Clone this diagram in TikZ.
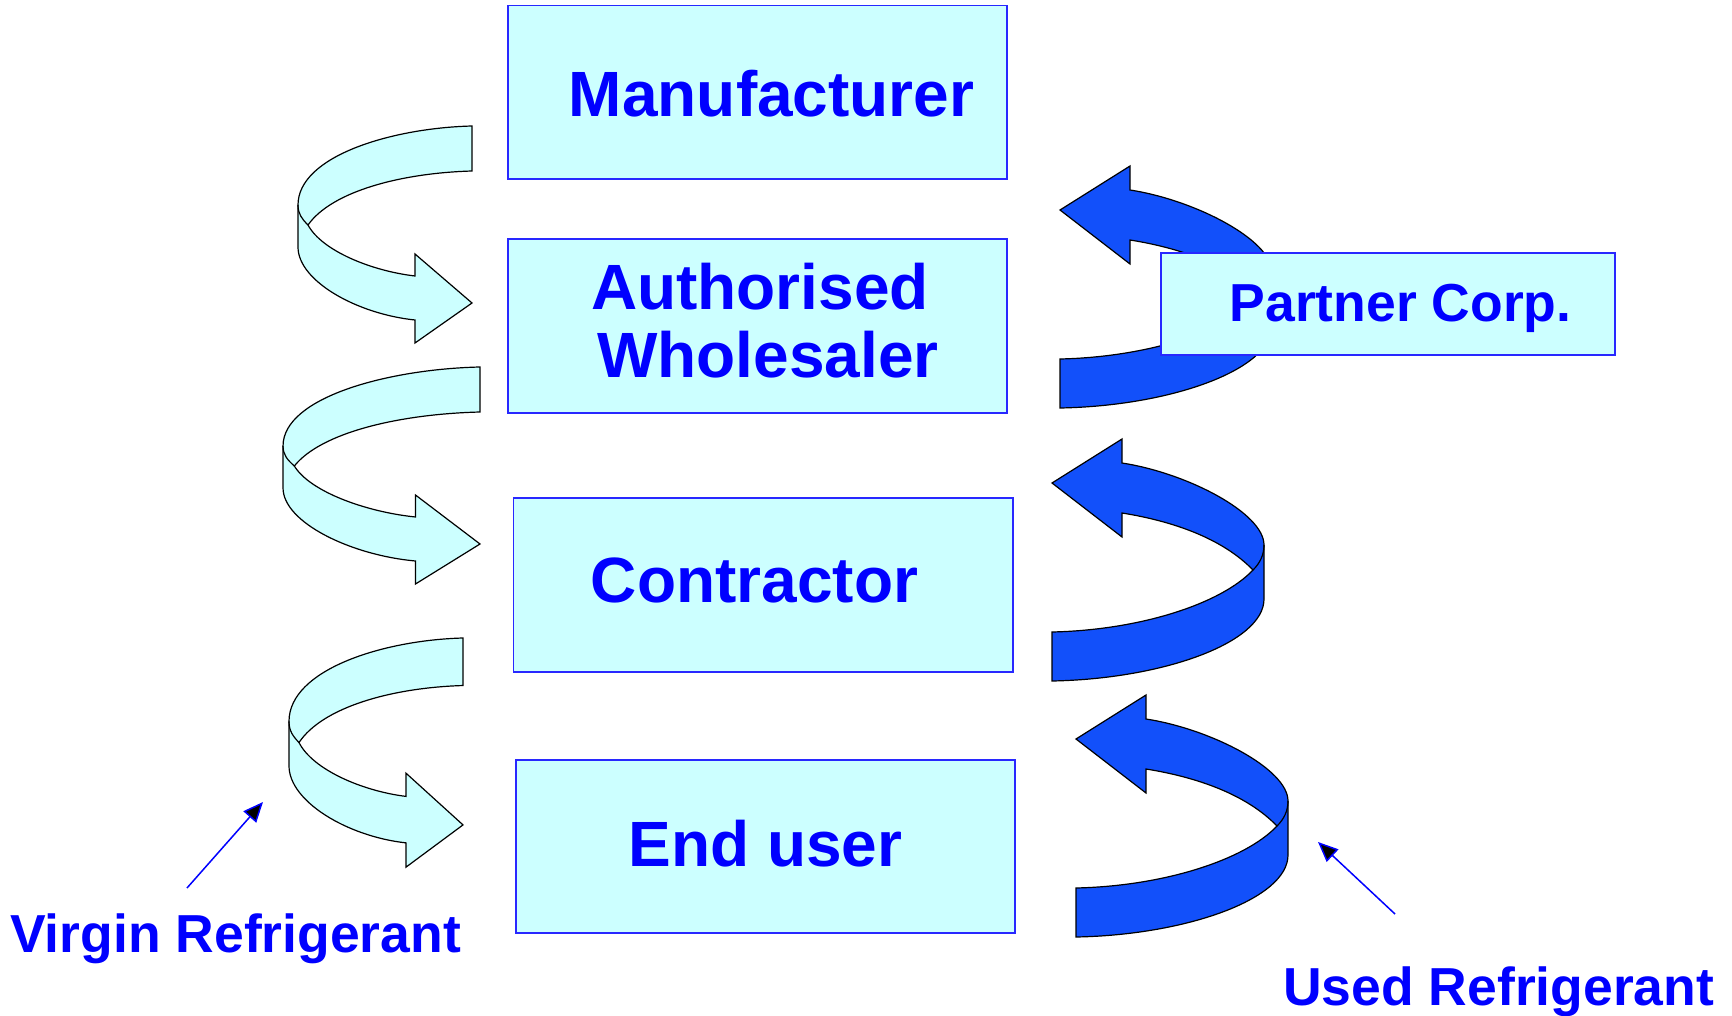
\documentclass[tikz,border=0pt]{standalone}
\usepackage{fontspec}
\setmainfont{Liberation Sans}
\usetikzlibrary{arrows.meta}
\definecolor{boxfill}{RGB}{204,255,255}
\definecolor{boxline}{RGB}{40,40,255}
\definecolor{txtblue}{RGB}{0,0,255}
\definecolor{darkfill}{RGB}{18,80,250}
\tikzset{
  box/.style={draw=boxline, line width=1.4pt, fill=boxfill, inner sep=0pt, outer sep=0pt},
  bigtext/.style={inner sep=0pt, anchor=base, text=txtblue, font=\fontsize{64}{68}\selectfont\bfseries},
  smalltext/.style={inner sep=0pt, text=txtblue, font=\fontsize{53.5}{60}\selectfont\bfseries},
  pointer/.style={draw=txtblue, line width=1.5pt, -{Triangle[length=20pt,width=17pt,fill=black]}},
  lightarrow/.pic={
    \path[draw=black, line width=1.2pt, fill=boxfill]
      (0,0) .. controls (-80,2) and (-174,30) .. (-174,79) -- (-174,121)
      .. controls (-174,155) and (-115,188) .. (-57,194) -- (-57,217) -- (0,177)
      -- (-57,128) -- (-57,150) .. controls (-100,145) and (-150,125) .. (-164,99)
      .. controls (-140,65) and (-70,47) .. (0,45) -- cycle;
    \draw[line width=1.2pt] (-174,79) .. controls (-174,88) and (-170,93) .. (-164,99);
  },
  darkarrow/.pic={
    \path[draw=black, line width=1.2pt, fill=darkfill]
      (0,0) -- (70,-44) -- (70,-20) .. controls (135,-10) and (212,30) .. (212,62)
      -- (212,116) .. controls (212,160) and (110,196) .. (0,198) -- (0,149)
      .. controls (90,147) and (170,120) .. (201,87)
      .. controls (170,55) and (120,38) .. (70,30) -- (70,54) -- cycle;
    \draw[line width=1.2pt] (212,62) .. controls (212,72) and (208,80) .. (201,87);
  }
}
\begin{document}
\begin{tikzpicture}[x=1pt,y=-1pt]
\useasboundingbox (0,0) rectangle (1732,1016);
% light (virgin) arrows
\pic at (472,126) {lightarrow};
\pic[xscale=1.132] at (480,367) {lightarrow};
\pic[yscale=1.056] at (463,638) {lightarrow};
% dark (used) arrows
\pic at (1060,210) {darkarrow};
\pic at (1052,483) {darkarrow};
\pic at (1076,739) {darkarrow};
% boxes
\node[box, minimum width=499pt, minimum height=173.5pt] (man) at (757.5,92.25) {};
\node[box, minimum width=499pt, minimum height=174pt] (who) at (757.5,326) {};
\node[box, minimum width=499.5pt, minimum height=174pt] (con) at (763.25,585) {};
\node[box, minimum width=499pt, minimum height=173pt] (end) at (765.5,846.5) {};
\node[box, minimum width=454pt, minimum height=102pt] (par) at (1388,304) {};
% texts
\node[bigtext] (tman) at (771.6,117) {Manufacturer};
\node[bigtext] (twho1) at (760,309) {Authorised};
\node[bigtext] (twho2) at (768,377) {Wholesaler};
\node[bigtext] (tcon) at (754.5,602) {Contractor};
\node[bigtext] (tend) at (765.5,866) {End user};
\node[smalltext, anchor=base] (tpar) at (1400.5,321) {Partner Corp.};
\node[smalltext, anchor=base west] (tvir) at (10,952) {Virgin Refrigerant};
\node[smalltext, anchor=base west] (tuse) at (1283,1005) {Used Refrigerant};
% pointers
\coordinate (v0) at (187,888);
\coordinate (v1) at (263,802);
\coordinate (u0) at (1395,914);
\coordinate (u1) at (1318,842);
\draw[pointer] (v0) -- (v1);
\draw[pointer] (u0) -- (u1);
\end{tikzpicture}
\end{document}
